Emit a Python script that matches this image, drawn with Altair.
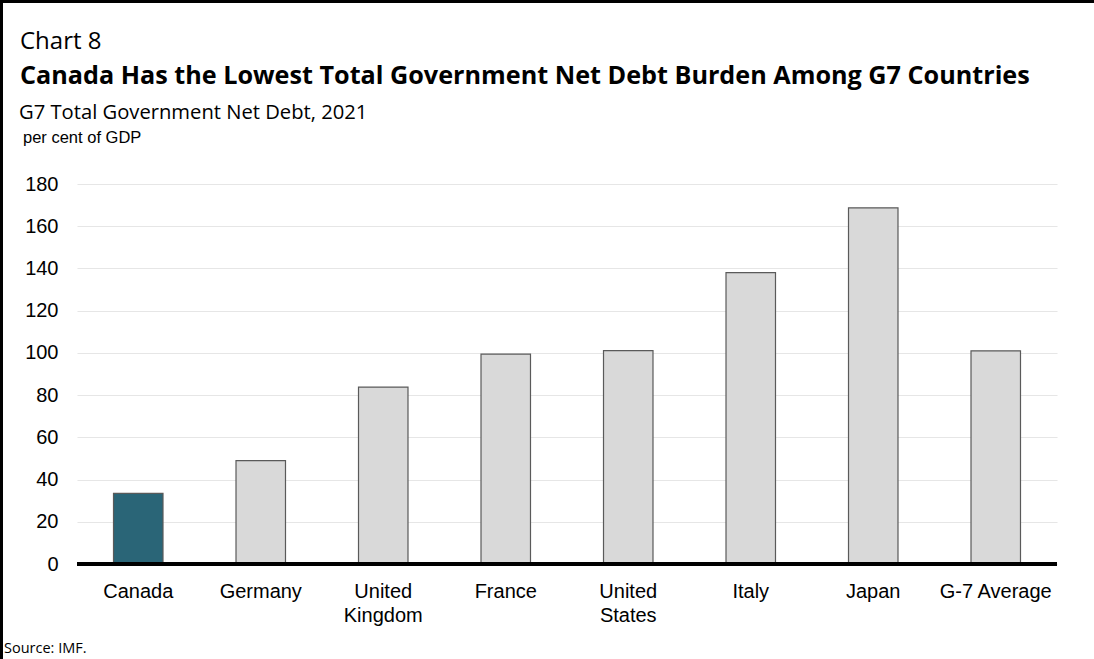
import altair as alt
import pandas as pd

countries = ["Canada", "Germany", "United Kingdom", "France", "United States", "Italy", "Japan", "G-7 Average"]
net_debt = [33.5, 49.0, 83.8, 99.4, 101.1, 138.0, 168.7, 101.0]
y_ticks = [0, 20, 40, 60, 80, 100, 120, 140, 160, 180]

chart_label = "Chart 8"
title_text = "Canada Has the Lowest Total Government Net Debt Burden Among G7 Countries"
subtitle_text = "G7 Total Government Net Debt, 2021"
unit_text = "per cent of GDP"
source_text = "Source: IMF."

df = pd.DataFrame({"country": countries, "value": net_debt})

W, H = 980, 380
PL, PT, PR, PB = 77, 184, 37, 95

x_enc = alt.X(
    "country:N",
    sort=countries,
    scale=alt.Scale(paddingInner=0.596, paddingOuter=0.298),
    axis=alt.Axis(
        title=None, labelAngle=0, domain=False, ticks=False,
        labelFont="Liberation Sans", labelFontSize=20, labelColor="#000000",
        labelPadding=17, labelLineHeight=24, labelBaseline="top",
        labelExpr="datum.value == 'United Kingdom' ? ['United', 'Kingdom'] : datum.value == 'United States' ? ['United', 'States'] : datum.label",
    ),
)
y_enc = alt.Y(
    "value:Q",
    scale=alt.Scale(domain=[0, 180], nice=False),
    axis=alt.Axis(
        title=None, values=y_ticks, domain=False, ticks=False,
        labelFont="Liberation Sans", labelFontSize=20, labelColor="#000000",
        labelPadding=19, gridColor="#e6e6e6", gridWidth=1.2,
    ),
)

bars = alt.Chart(df).mark_bar(stroke="#5a5a5a", strokeWidth=1.2).encode(
    x=x_enc,
    y=y_enc,
    fill=alt.condition(alt.datum.country == "Canada", alt.value("#2a6577"), alt.value("#d9d9d9")),
)

baseline = alt.Chart(df).mark_rule(color="#000000", strokeWidth=3.5).encode(
    y=alt.datum(0), x=alt.value(0), x2=alt.value(W)
)

def txt(t, x, y, font, size, weight="normal"):
    return alt.Chart(pd.DataFrame({"t": [t]})).mark_text(
        align="left", baseline="alphabetic", font=font, fontSize=size,
        fontWeight=weight, color="#000000"
    ).encode(text="t:N", x=alt.value(x), y=alt.value(y))

frame = alt.Chart(pd.DataFrame({"a": [0]})).mark_rect(
    fill=None, stroke="#000000", strokeWidth=3
).encode(x=alt.value(-PL + 1.5), x2=alt.value(W + PR + 20), y=alt.value(-PT + 1.5), y2=alt.value(H + PB + 20))

texts = [
    txt(chart_label, -57, -135, "Open Sans", 24),
    txt(title_text, -57, -100, "Open Sans", 25.2, "bold"),
    txt(subtitle_text, -58, -65, "Open Sans", 20.2),
    txt(unit_text, -54, -41, "Liberation Sans", 16.5),
    txt(source_text, -73, 469, "Open Sans", 14.5),
]

chart = alt.layer(bars, baseline, frame, *texts).properties(
    width=W, height=H,
    autosize=alt.AutoSizeParams(type="none"),
    padding={"left": PL, "top": PT, "right": PR, "bottom": PB},
    background="#ffffff",
).configure_view(strokeWidth=0)

chart.save("out.html", embed_options={"renderer": "svg", "actions": False})
